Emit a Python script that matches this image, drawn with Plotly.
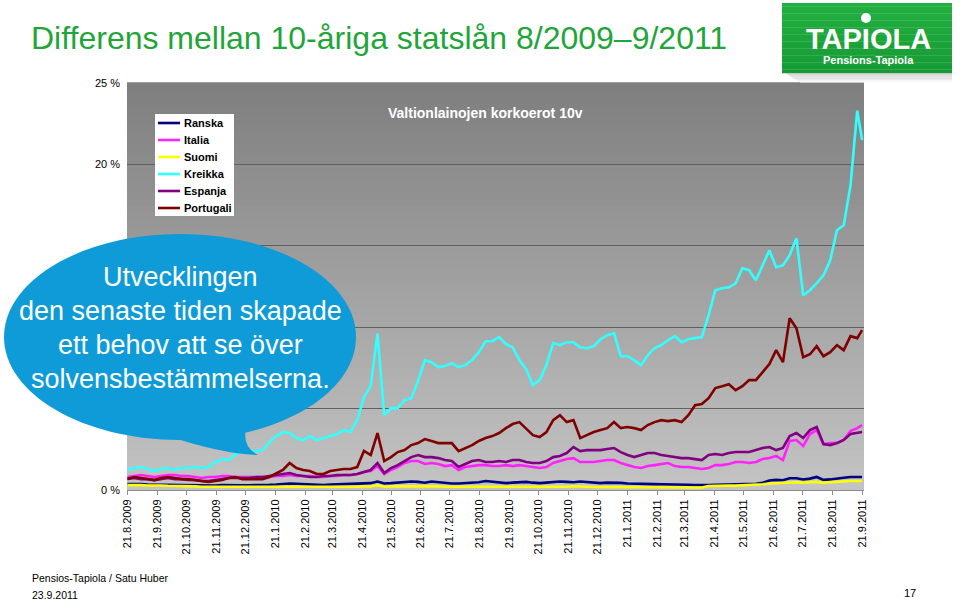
import pandas as pd
import plotly.graph_objects as go

# ---------------- data ----------------
dates = [d.strftime("%Y-%m-%d") for d in pd.date_range("2009-08-21", periods=109, freq="7D")] + ["2011-09-21"]

ranska = [0.36,0.38,0.36,0.34,0.33,0.34,0.33,0.32,0.31,0.30,
          0.30,0.28,0.28,0.28,0.30,0.31,0.30,0.29,0.29,0.29,
          0.31,0.32,0.34,0.38,0.40,0.38,0.36,0.32,0.30,0.30,
          0.33,0.35,0.36,0.36,0.38,0.40,0.42,0.52,0.40,0.42,
          0.45,0.50,0.52,0.50,0.45,0.52,0.48,0.42,0.40,0.40,
          0.42,0.45,0.48,0.55,0.50,0.45,0.42,0.45,0.48,0.50,
          0.45,0.42,0.45,0.48,0.52,0.50,0.48,0.52,0.50,0.45,
          0.42,0.45,0.46,0.44,0.40,0.38,0.36,0.37,0.36,0.35,
          0.35,0.36,0.33,0.32,0.30,0.28,0.30,0.32,0.33,0.33,
          0.33,0.34,0.35,0.38,0.45,0.58,0.62,0.60,0.72,0.72,
          0.65,0.70,0.80,0.62,0.65,0.68,0.75,0.80,0.80,0.80]

italia = [0.80,0.86,0.92,0.86,0.80,0.86,0.92,0.92,0.86,0.86,
          0.80,0.74,0.80,0.80,0.86,0.86,0.80,0.80,0.80,0.80,
          0.80,0.80,0.86,0.86,0.92,0.86,0.86,0.86,0.80,0.80,
          0.86,0.86,0.92,0.92,0.98,1.10,1.17,1.47,0.98,1.23,
          1.41,1.66,1.78,1.78,1.60,1.66,1.60,1.47,1.53,1.23,
          1.41,1.47,1.53,1.53,1.47,1.47,1.53,1.47,1.53,1.47,
          1.41,1.35,1.41,1.66,1.78,1.90,1.96,1.72,1.72,1.72,
          1.78,1.84,1.84,1.66,1.53,1.41,1.35,1.47,1.53,1.60,
          1.66,1.47,1.41,1.41,1.35,1.29,1.35,1.53,1.53,1.60,
          1.72,1.72,1.66,1.72,1.90,1.96,2.09,1.84,3.01,3.07,
          2.70,3.44,3.68,2.82,2.88,2.88,3.07,3.62,3.80,3.99]

suomi = [0.30,0.32,0.30,0.28,0.30,0.28,0.26,0.26,0.24,0.23,
         0.22,0.20,0.20,0.18,0.18,0.20,0.18,0.18,0.16,0.16,
         0.18,0.18,0.18,0.20,0.20,0.18,0.18,0.16,0.16,0.16,
         0.18,0.18,0.20,0.20,0.20,0.22,0.22,0.30,0.20,0.22,
         0.22,0.25,0.26,0.26,0.23,0.23,0.23,0.20,0.20,0.18,
         0.18,0.20,0.20,0.20,0.18,0.18,0.18,0.20,0.20,0.18,
         0.18,0.18,0.18,0.20,0.20,0.20,0.23,0.20,0.20,0.18,
         0.18,0.18,0.18,0.16,0.16,0.16,0.15,0.15,0.15,0.15,
         0.15,0.15,0.15,0.15,0.15,0.15,0.25,0.27,0.27,0.27,
         0.27,0.28,0.30,0.32,0.35,0.40,0.42,0.40,0.45,0.48,
         0.45,0.48,0.50,0.45,0.48,0.50,0.52,0.55,0.55,0.55]

kreikka = [1.23,1.35,1.41,1.29,1.17,1.29,1.35,1.23,1.35,1.35,
           1.41,1.35,1.41,1.72,1.90,1.84,2.21,2.33,2.33,2.39,
           2.45,2.94,3.31,3.56,3.50,3.19,3.07,3.31,3.07,3.19,
           3.31,3.44,3.68,3.56,4.29,5.70,6.40,9.60,4.60,5.03,
           5.03,5.52,5.64,6.69,7.98,7.85,7.55,7.61,7.79,7.55,
           7.67,7.98,8.47,9.14,9.14,9.39,8.96,8.77,7.98,7.42,
           6.44,6.75,7.67,9.02,8.90,9.08,9.08,8.77,8.71,8.83,
           9.26,9.51,9.63,8.22,8.22,7.98,7.67,8.28,8.71,8.90,
           9.20,9.45,9.08,9.26,9.33,9.39,10.74,12.27,12.39,12.45,
           12.70,13.62,13.50,12.88,13.80,14.72,13.68,13.80,14.42,15.46,
           11.96,12.27,12.70,13.19,14.11,15.95,16.26,18.70,23.30,21.50]

espanja = [0.67,0.74,0.67,0.67,0.61,0.67,0.74,0.67,0.67,0.61,
           0.61,0.55,0.55,0.61,0.67,0.74,0.74,0.74,0.74,0.80,
           0.80,0.86,0.92,0.98,1.04,0.92,0.86,0.80,0.80,0.86,
           0.86,0.92,0.92,0.92,0.98,1.10,1.23,1.66,1.04,1.35,
           1.53,1.78,2.02,2.15,2.02,2.02,1.96,1.84,1.78,1.41,
           1.60,1.78,1.84,1.72,1.72,1.78,1.72,1.84,1.84,1.72,
           1.66,1.66,1.78,2.02,2.09,2.27,2.64,2.39,2.45,2.45,
           2.45,2.52,2.58,2.33,2.15,2.02,2.15,2.27,2.27,2.15,
           2.09,2.02,1.96,1.96,1.90,1.84,2.15,2.21,2.15,2.27,
           2.33,2.33,2.33,2.45,2.58,2.64,2.45,2.58,3.31,3.50,
           3.19,3.68,3.87,2.82,2.76,2.88,3.07,3.44,3.50,3.56]

portugali = [0.67,0.80,0.74,0.67,0.61,0.74,0.80,0.74,0.67,0.67,
             0.61,0.55,0.49,0.55,0.61,0.74,0.80,0.67,0.67,0.67,
             0.67,0.80,1.04,1.23,1.66,1.35,1.23,1.17,0.98,0.98,
             1.17,1.23,1.29,1.29,1.41,2.40,2.15,3.50,1.78,2.02,
             2.33,2.45,2.76,2.88,3.13,3.01,2.88,2.88,2.88,2.39,
             2.58,2.76,3.01,3.19,3.31,3.50,3.80,4.05,4.17,3.80,
             3.37,3.25,3.56,4.29,4.60,4.17,4.29,3.19,3.37,3.56,
             3.68,3.80,4.17,3.80,3.87,3.80,3.68,3.99,4.17,4.29,
             4.23,4.29,4.17,4.60,5.21,5.28,5.64,6.26,6.38,6.50,
             6.13,6.38,6.75,6.75,7.24,7.73,8.59,7.85,10.55,9.94,
             8.16,8.34,8.83,8.22,8.47,8.90,8.59,9.45,9.33,9.82]

series_names = ["Ranska", "Italia", "Suomi", "Kreikka", "Espanja", "Portugali"]
series_values = [ranska, italia, suomi, kreikka, espanja, portugali]
series_colors = ["#000080", "#ff22ff", "#ffff00", "#33ffff", "#800080", "#800000"]

tick_dates = [d.replace(day=21).strftime("%Y-%m-%d") for d in pd.date_range("2009-08-01", periods=26, freq="MS")]
tick_labels = [f"{int(d[8:10])}.{int(d[5:7])}.{d[0:4]}" for d in tick_dates]
y_ticks = [0, 5, 10, 15, 20, 25]
y_labels = ["0 %", "", "", "", "20 %", "25 %"]

title = "Differens mellan 10-åriga statslån 8/2009–9/2011"
chart_title = "Valtionlainojen korkoerot 10v"
bubble_lines = ["Utvecklingen", "den senaste tiden skapade", "ett behov att se över", "solvensbestämmelserna."]
footer1 = "Pensios-Tapiola / Satu Huber"
footer2 = "23.9.2011"
page_no = "17"

# ---------------- layout helpers ----------------
W, H = 960, 600
L, R, T, B = 127, 864, 83, 490
FONT = "Liberation Sans, Arial, sans-serif"
NARROW = "Liberation Sans Narrow, Arial Narrow, Liberation Sans, Arial, sans-serif"


def px(x):
    return (x - L) / (R - L)


def py(y):
    return (B - y) / (B - T)


fig = go.Figure()
for name, vals, col in zip(series_names, series_values, series_colors):
    fig.add_trace(go.Scatter(x=dates, y=vals, name=name, mode="lines",
                             line=dict(color=col, width=2.6), showlegend=False,
                             hoverinfo="skip"))

shapes = []
# gradient plot background
n = 60
for i in range(n):
    t = i / n
    g = int(round(196 - (196 - 126) * (t + 0.5 / n)))
    shapes.append(dict(type="rect", xref="x domain", yref="y domain",
                       x0=0, x1=1, y0=t, y1=(i + 1) / n + 0.002,
                       fillcolor=f"rgb({g},{g},{g})", line=dict(width=0), layer="below"))

# legend box
shapes.append(dict(type="rect", xref="paper", yref="paper",
                   x0=px(155), x1=px(234), y0=py(216), y1=py(114),
                   fillcolor="white", line=dict(width=0), layer="above"))
annotations = []
for k, (name, col) in enumerate(zip(series_names, series_colors)):
    yy = 123 + 17 * k
    shapes.append(dict(type="line", xref="paper", yref="paper",
                       x0=px(158), x1=px(180), y0=py(yy), y1=py(yy),
                       line=dict(color=col, width=2.6), layer="above"))
    annotations.append(dict(xref="paper", yref="paper", x=px(182), y=py(yy),
                            text=f"<b>{name}</b>", showarrow=False, xanchor="left",
                            yanchor="middle", font=dict(family=FONT, size=11, color="black")))

# speech bubble
cx, cy, rx, ry, kk = 180, 337, 176, 103, 0.5523


def P(x, y):
    return f"{px(x):.5f},{py(y):.5f}"


ell = (f"M {P(cx+rx, cy)} "
       f"C {P(cx+rx, cy+kk*ry)} {P(cx+kk*rx, cy+ry)} {P(cx, cy+ry)} "
       f"C {P(cx-kk*rx, cy+ry)} {P(cx-rx, cy+kk*ry)} {P(cx-rx, cy)} "
       f"C {P(cx-rx, cy-kk*ry)} {P(cx-kk*rx, cy-ry)} {P(cx, cy-ry)} "
       f"C {P(cx+kk*rx, cy-ry)} {P(cx+rx, cy-kk*ry)} {P(cx+rx, cy)} Z")
tail = (f"M {P(168, 436)} Q {P(222, 454)} {P(258, 455)} "
        f"Q {P(242, 447)} {P(246, 428)} Z")
bubble_col = "#0e9bd8"
shapes.append(dict(type="path", xref="paper", yref="paper", path=ell,
                   fillcolor=bubble_col, line=dict(width=0), layer="above"))
shapes.append(dict(type="path", xref="paper", yref="paper", path=tail,
                   fillcolor=bubble_col, line=dict(width=0), layer="above"))
for k, line in enumerate(bubble_lines):
    annotations.append(dict(xref="paper", yref="paper", x=px(180), y=py(277 + 34 * k),
                            text=line, showarrow=False, xanchor="center", yanchor="middle",
                            font=dict(family=FONT, size=27, color="white")))

# logo
nb = 20
for i in range(nb):
    t = i / nb
    r_ = int(34 - 12 * t); g_ = int(176 - 22 * t); b_ = int(64 - 12 * t)
    shapes.append(dict(type="rect", xref="paper", yref="paper",
                       x0=px(782), x1=px(952), y0=py(3 + 70 * t), y1=py(3 + 70 * (t + 1 / nb) + 0.3),
                       fillcolor=f"rgb({r_},{g_},{b_})", line=dict(width=0), layer="above"))
for i in range(8):
    g = int(200 + 7 * i)
    shapes.append(dict(type="rect", xref="paper", yref="paper",
                       x0=px(786 + i * 2), x1=px(952), y0=py(73 + i * 1.2), y1=py(73 + (i + 1) * 1.2),
                       fillcolor=f"rgb({g},{g},{g})", line=dict(width=0), layer="above"))
shapes.append(dict(type="circle", xref="paper", yref="paper",
                   x0=px(861), x1=px(871), y0=py(23), y1=py(13),
                   fillcolor="white", line=dict(width=0), layer="above"))
annotations.append(dict(xref="paper", yref="paper", x=px(868), y=py(39), text="<b>TAPIOLA</b>",
                        showarrow=False, xanchor="center", yanchor="middle",
                        font=dict(family=FONT, size=29, color="white")))
annotations.append(dict(xref="paper", yref="paper", x=px(868), y=py(60), text="<b>Pensions-Tapiola</b>",
                        showarrow=False, xanchor="center", yanchor="middle",
                        font=dict(family=NARROW, size=11, color="white")))

# titles and footer
annotations.append(dict(xref="paper", yref="paper", x=px(29), y=py(38), text=title,
                        showarrow=False, xanchor="left", yanchor="middle",
                        font=dict(family=FONT, size=32, color="#1fa53a")))
annotations.append(dict(xref="paper", yref="paper", x=px(485), y=py(113), text=f"<b>{chart_title}</b>",
                        showarrow=False, xanchor="center", yanchor="middle",
                        font=dict(family=FONT, size=14, color="white")))
annotations.append(dict(xref="paper", yref="paper", x=px(30), y=py(578), text=footer1,
                        showarrow=False, xanchor="left", yanchor="middle",
                        font=dict(family=NARROW, size=10.5, color="black")))
annotations.append(dict(xref="paper", yref="paper", x=px(30), y=py(595), text=footer2,
                        showarrow=False, xanchor="left", yanchor="middle",
                        font=dict(family=NARROW, size=10.5, color="black")))
annotations.append(dict(xref="paper", yref="paper", x=px(918), y=py(593), text=page_no,
                        showarrow=False, xanchor="right", yanchor="middle",
                        font=dict(family=NARROW, size=11, color="black")))

fig.update_layout(
    width=W, height=H,
    margin=dict(l=L, r=W - R, t=T, b=H - B, autoexpand=False),
    paper_bgcolor="white", plot_bgcolor="#a0a0a0",
    showlegend=False,
    shapes=shapes, annotations=annotations,
    font=dict(family=FONT, size=11, color="black"),
    xaxis=dict(type="date", range=["2009-08-20 12:00", "2011-09-23"], tickvals=tick_dates,
               ticktext=tick_labels, tickangle=-90, showgrid=False, zeroline=False,
               showline=True, linecolor="#8c8c8c", linewidth=1,
               ticks="outside", ticklen=4, tickcolor="#8c8c8c",
               tickfont=dict(family=FONT, size=11, color="black"), automargin=False),
    yaxis=dict(range=[0, 25], tickvals=y_ticks, ticktext=y_labels, showgrid=True,
               gridcolor="#606060", gridwidth=1, zeroline=False, showline=False,
               ticks="", ticklabelstandoff=6,
               tickfont=dict(family=FONT, size=11, color="black"), automargin=False),
)

fig.write_html("out.html")
